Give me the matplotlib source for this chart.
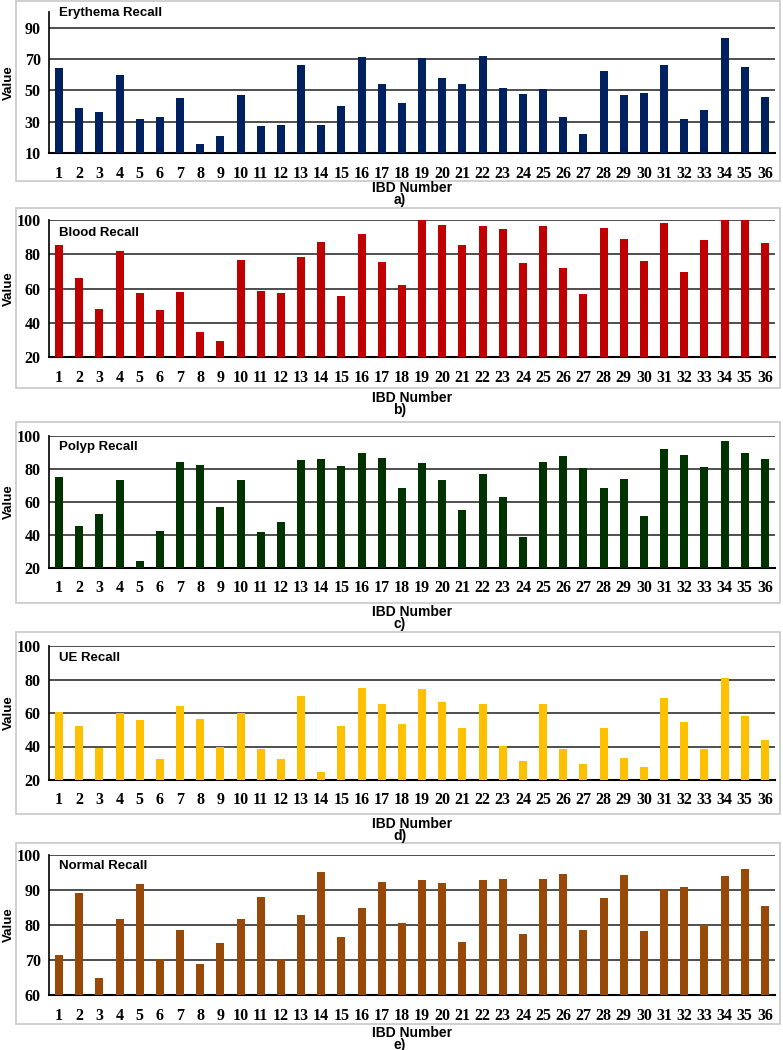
import matplotlib.pyplot as plt
import numpy as np
from matplotlib.patches import Rectangle

# data
ibd = list(range(1, 37))

erythema = [64, 39, 36, 59.8, 31.7, 32.8, 44.8, 15.5, 20.8, 47.1, 27.3, 27.9, 66.3, 27.7, 40, 71.2, 54.3,
            41.9, 70.8, 57.9, 54.3, 71.8, 51.8, 47.8, 51.1, 32.8, 22.2, 62.3, 46.9, 48, 66.1, 31.5, 37.4,
            83.4, 64.9, 45.7]
blood = [85.2, 66, 48.1, 81.7, 57.5, 47.3, 57.9, 34.4, 29.2, 76.6, 58.8, 57.1, 78.5, 86.9, 55.9, 91.6, 75.4,
         62, 100, 97.1, 85.4, 96.5, 94.9, 74.6, 96.5, 71.9, 56.7, 95.5, 89.1, 76, 98, 69.4, 88.3,
         100, 100, 86.5]
polyp = [74.9, 45.5, 52.6, 73.1, 24, 42.3, 84.3, 82.3, 57, 73.3, 42.1, 47.7, 85.3, 86.1, 81.9, 89.7, 86.7,
         68.6, 83.9, 73.1, 55.4, 77.1, 63, 38.9, 84.1, 87.9, 80.7, 68.4, 74.1, 51.6, 92, 88.7, 81.1,
         97.2, 89.9, 86.3]
ue = [60.8, 52.4, 39.3, 59.8, 56, 32.3, 64.2, 56.6, 39.7, 59.8, 38.7, 32.3, 70.3, 24.8, 52, 75.1, 65.4,
      53.4, 74.1, 66.4, 51, 65.6, 40.1, 31.5, 65.2, 38.5, 29.4, 51, 33.3, 28, 69.2, 54.4, 38.5,
      80.7, 58.2, 43.9]
normal = [71.5, 89.1, 65, 81.7, 91.8, 70.3, 78.5, 69, 74.8, 81.7, 88.1, 70.3, 83, 95.2, 76.7, 85, 92.4,
          80.7, 92.8, 91.9, 75.1, 93, 93.2, 77.3, 93.1, 94.5, 78.5, 87.8, 94.2, 78.4, 90.4, 91, 79.9,
          94.1, 96.1, 85.3]

titles = ['Erythema Recall', 'Blood Recall', 'Polyp Recall', 'UE Recall', 'Normal Recall']
letters = ['a)', 'b)', 'c)', 'd)', 'e)']
series = [erythema, blood, polyp, ue, normal]
colors = ['#002060', '#C00000', '#003300', '#FFC000', '#984807']
ylims = [(10, 100), (20, 100), (20, 100), (20, 100), (60, 100)]
yticks = [[10, 30, 50, 70, 90], [20, 40, 60, 80, 100], [20, 40, 60, 80, 100],
          [20, 40, 60, 80, 100], [60, 70, 80, 90, 100]]

# layout in pixels: axes top, axes bottom, box top, box bottom, title y, xlabel y, letter y
layout = [(12, 153, 1, 181, 13, 188, 200),
          (220, 357, 208, 388, 233, 398, 410),
          (436, 568, 422, 603, 447, 612, 624),
          (646, 780, 632, 814, 658, 824, 836),
          (855, 995, 843, 1024, 866, 1033, 1045)]

W, H = 783, 1050
fig = plt.figure(figsize=(W / 100, H / 100), dpi=100)

ax_left, ax_right = 49, 775
box_left, box_right = 16, 780

for i in range(5):
    at, ab, bt, bb, ty, ly, lety = layout[i]

    # light grey frame around each chart
    fig.patches.append(Rectangle((box_left / W, 1 - bb / H), (box_right - box_left) / W, (bb - bt) / H,
                                 transform=fig.transFigure, fill=False, ec='#C8C8C8', lw=1.2))

    ax = fig.add_axes([ax_left / W, 1 - ab / H, (ax_right - ax_left) / W, (ab - at) / H])
    ax.bar(ibd, series[i], width=0.4, color=colors[i], zorder=3)
    ax.set_xlim(0.5, 36.5)
    ax.set_ylim(*ylims[i])
    ax.set_yticks(yticks[i])
    ax.set_xticks(ibd)
    ax.yaxis.grid(True, color='#303030', lw=1.2, zorder=0)
    ax.set_axisbelow(True)
    for s in ['top', 'right']:
        ax.spines[s].set_visible(False)
    ax.spines['left'].set_lw(1.2)
    ax.spines['bottom'].set_lw(1.5)
    ax.tick_params(length=0, pad=9)
    for lab in ax.get_xticklabels() + ax.get_yticklabels():
        lab.set_fontfamily('Liberation Serif')
        lab.set_fontweight('bold')
        lab.set_fontsize(11.5)
    ax.tick_params(axis='y', pad=6)

    fig.text(9 / W, 1 - (at + ab) / 2 / H, 'Value', rotation=90, ha='center', va='center',
             fontsize=9.5, fontweight='bold', family='Liberation Sans')
    fig.text(59 / W, 1 - ty / H, titles[i], ha='left', va='center',
             fontsize=9.5, fontweight='bold', family='Liberation Sans')
    fig.text((ax_left + ax_right) / 2 / W, 1 - ly / H, 'IBD Number', ha='center', va='center',
             fontsize=10, fontweight='bold', family='Liberation Sans')
    fig.text(400 / W, 1 - lety / H, letters[i], ha='center', va='center',
             fontsize=10, fontweight='bold', family='Liberation Sans')

fig.savefig('out.png', dpi=100)
